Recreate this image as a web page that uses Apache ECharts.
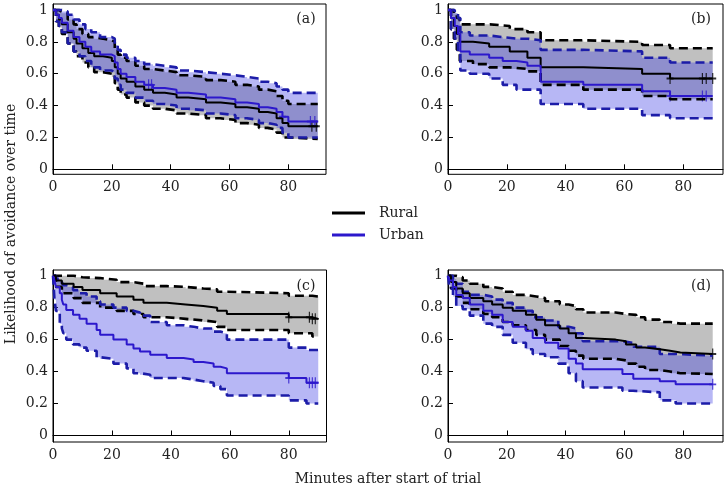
<!DOCTYPE html>
<html><head><meta charset="utf-8">
<script src="https://cdn.jsdelivr.net/npm/echarts@6/dist/echarts.min.js"></script>
<style>html,body{margin:0;padding:0;background:#fff}#c{width:724px;height:489px}</style>
</head><body><div id="c"></div>
<script>
// ---------- tick labels / categories ----------
const xTicks = [0, 20, 40, 60, 80];
const yTicks = [0, 0.2, 0.4, 0.6, 0.8, 1];
const groupNames = ['Rural', 'Urban'];
const panelLabels = ['(a)', '(b)', '(c)', '(d)'];
const xTitle = 'Minutes after start of trial';
const yTitle = 'Likelihood of avoidance over time';

// ---------- panel (a) ----------
const aRuralT  = [0, 1, 2, 3, 5, 7, 8, 10, 12, 14, 17, 20, 21, 22, 23, 25, 28, 31, 34, 38, 42, 46, 52, 57, 62, 66, 70, 73, 76, 78, 80, 90];
const aRuralS  = [1, .97, .94, .91, .86, .82, .79, .76, .73, .71, .70, .68, .64, .60, .57, .55, .52, .50, .48, .47, .45, .44, .42, .41, .39, .38, .36, .35, .32, .29, .27, .27];
const aRuralHi = [1, 1, .99, .98, .94, .91, .88, .85, .83, .82, .81, .80, .76, .72, .70, .68, .65, .63, .62, .61, .59, .58, .56, .55, .53, .52, .50, .49, .46, .43, .41, .41];
const aRuralLo = [1, .93, .89, .85, .79, .74, .71, .67, .64, .61, .60, .58, .54, .50, .47, .45, .42, .40, .38, .37, .35, .34, .32, .31, .29, .28, .26, .25, .23, .20, .19, .19];
const aRuralCens = [88, 89.5];
const aUrbanT  = [0, 1, 2, 3, 5, 7, 9, 11, 13, 16, 20, 21, 22, 23, 25, 28, 31, 34, 38, 42, 46, 52, 57, 62, 66, 70, 73, 76, 78, 80, 90];
const aUrbanS  = [1, .97, .95, .92, .87, .83, .80, .77, .74, .72, .71, .67, .63, .60, .58, .55, .53, .51, .50, .48, .47, .45, .44, .42, .41, .39, .38, .36, .33, .30, .30];
const aUrbanHi = [1, 1, 1, .99, .97, .94, .91, .88, .86, .83, .82, .78, .75, .72, .70, .68, .66, .65, .64, .62, .61, .60, .59, .58, .57, .55, .54, .52, .50, .48, .48];
const aUrbanLo = [1, .93, .90, .86, .79, .74, .71, .68, .64, .62, .61, .57, .53, .50, .48, .45, .43, .41, .40, .38, .37, .35, .34, .32, .31, .29, .28, .26, .23, .20, .20];
const aUrbanCens = [32.5, 33.5, 78, 87.5, 89];

// ---------- panel (b) ----------
const bRuralT  = [0, 1, 2, 3, 4, 8.5, 14, 21, 27, 31.5, 46, 66, 75.5, 90];
const bRuralS  = [1, .95, .90, .85, .80, .79, .77, .74, .70, .64, .63, .60, .57, .57];
const bRuralHi = [1, 1, .98, .95, .91, .91, .90, .88, .86, .81, .80, .78, .76, .76];
const bRuralLo = [1, .88, .82, .75, .68, .66, .64, .63, .615, .53, .50, .46, .44, .44];
const bRuralCens = [75.5, 86.5, 87.8, 90];
const bUrbanT  = [0, 1, 2.3, 3.4, 4.2, 7.4, 14, 18.6, 23.3, 27, 31.5, 46, 66, 75.5, 90];
const bUrbanS  = [1, .95, .90, .85, .74, .72, .70, .68, .67, .65, .55, .53, .49, .46, .46];
const bUrbanHi = [1, 1, .98, .95, .86, .84, .83, .82, .82, .81, .75, .74, .70, .67, .67];
const bUrbanLo = [1, .88, .82, .74, .62, .60, .57, .53, .50, .50, .41, .38, .34, .32, .32];
const bUrbanCens = [75.5, 86.5, 87.8];

// ---------- panel (c) ----------
const cRuralT  = [0, 1, 3, 7, 10, 16, 21.6, 27.3, 30.7, 38.6, 45, 51, 55.7, 59, 80, 88, 90];
const cRuralS  = [1, .97, .95, .93, .91, .89, .87, .85, .83, .82, .81, .80, .78, .76, .74, .73, .73];
const cRuralHi = [1, 1, 1, .99, .985, .975, .96, .95, .935, .93, .92, .915, .90, .89, .875, .87, .87];
const cRuralLo = [1, .93, .89, .86, .83, .80, .78, .76, .74, .73, .72, .71, .68, .66, .64, .62, .62];
const cRuralCens = [80, 87, 88, 89];
const cUrbanT  = [0, 0.5, 1, 2.3, 3, 3.5, 4.5, 6.8, 9, 11.4, 14.8, 16, 20.5, 25, 27.3, 29.5, 33, 38.6, 44.3, 47.7, 51, 54.5, 56.8, 59, 80, 86, 90];
const cUrbanS  = [1, .97, .93, .89, .85, .82, .785, .755, .73, .70, .66, .63, .60, .57, .545, .525, .505, .485, .475, .46, .45, .43, .42, .39, .36, .33, .33];
const cUrbanHi = [1, 1, .98, .96, .95, .94, .93, .91, .89, .87, .84, .82, .80, .78, .77, .75, .71, .69, .68, .67, .67, .65, .64, .60, .55, .535, .535];
const cUrbanLo = [1, .85, .78, .70, .67, .64, .60, .57, .55, .53, .49, .48, .45, .42, .39, .38, .36, .36, .35, .34, .33, .31, .29, .25, .22, .20, .20];
const cUrbanCens = [80, 87, 88, 89];

// ---------- panel (d) ----------
const dRuralT  = [0, 1, 2.8, 5, 7.4, 12, 15, 18.6, 22, 26.5, 30, 33, 38, 41, 43.5, 46, 57, 60.5, 64, 67, 72, 75.5, 79, 90];
const dRuralS  = [1, .96, .92, .89, .86, .84, .82, .80, .78, .755, .725, .69, .67, .64, .61, .60, .59, .57, .55, .54, .53, .52, .51, .51];
const dRuralHi = [1, 1, .99, .97, .95, .93, .92, .90, .88, .87, .86, .84, .82, .81, .79, .77, .76, .755, .74, .725, .71, .70, .70, .70];
const dRuralLo = [1, .92, .87, .83, .79, .76, .74, .71, .69, .66, .63, .60, .56, .53, .50, .48, .47, .45, .43, .41, .40, .39, .385, .385];
const dRuralCens = [90];
const dUrbanT  = [0, 0.5, 1.7, 2.8, 5, 7.4, 12, 15, 18.6, 22, 26.5, 28.8, 33, 37.5, 41, 43.5, 45.8, 59.3, 63, 72, 77.4, 90];
const dUrbanS  = [1, .97, .93, .88, .86, .82, .78, .755, .71, .68, .655, .61, .58, .545, .48, .45, .415, .385, .355, .34, .32, .32];
const dUrbanHi = [1, 1, .98, .95, .90, .88, .87, .85, .83, .80, .78, .74, .72, .68, .67, .64, .59, .58, .555, .51, .50, .50];
const dUrbanLo = [1, .92, .87, .81, .79, .75, .70, .68, .63, .58, .54, .51, .49, .45, .39, .34, .30, .28, .27, .22, .20, .20];
const dUrbanCens = [90];

// ---------- assemble ----------
const panels = [
  [{t: aRuralT, s: aRuralS, hi: aRuralHi, lo: aRuralLo, c: aRuralCens}, {t: aUrbanT, s: aUrbanS, hi: aUrbanHi, lo: aUrbanLo, c: aUrbanCens}],
  [{t: bRuralT, s: bRuralS, hi: bRuralHi, lo: bRuralLo, c: bRuralCens}, {t: bUrbanT, s: bUrbanS, hi: bUrbanHi, lo: bUrbanLo, c: bUrbanCens}],
  [{t: cRuralT, s: cRuralS, hi: cRuralHi, lo: cRuralLo, c: cRuralCens}, {t: cUrbanT, s: cUrbanS, hi: cUrbanHi, lo: cUrbanLo, c: cUrbanCens}],
  [{t: dRuralT, s: dRuralS, hi: dRuralHi, lo: dRuralLo, c: dRuralCens}, {t: dUrbanT, s: dUrbanS, hi: dUrbanHi, lo: dUrbanLo, c: dUrbanCens}]
];

const FONT = '"DejaVu Serif", serif';
const TXT = '#222';
const lineCol = ['#000000', '#2c18cc'];
const dashCol = ['#000000', '#1c1ca8'];
const bandCol = ['rgb(192,192,192)', 'rgba(60,60,229,0.37)'];

const grids = [
  {left: 53, top: 4, width: 273, height: 170.3},
  {left: 448, top: 4, width: 275, height: 170.3},
  {left: 53, top: 270, width: 273.5, height: 172},
  {left: 448, top: 270, width: 275, height: 172}
];
const xMax = [92.8, 93.5, 92.8, 93.5];
const yMin = [-0.0314, -0.0314, -0.0407, -0.0407];
const yMax = [1.0377, 1.0377, 1.0357, 1.0357];

function stepAt(x, ts, vs) {
  let v = vs[0];
  for (let i = 0; i < ts.length; i++) if (ts[i] <= x) v = vs[i];
  return v;
}

function bandRenderer(g, fill) {
  return function (params, api) {
    if (params.dataIndex !== 0) return null;
    const n = g.t.length;
    const pts = [];
    for (let k = 0; k < n - 1; k++) {
      pts.push(api.coord([g.t[k], g.hi[k]]));
      pts.push(api.coord([g.t[k + 1], g.hi[k]]));
    }
    for (let k = n - 2; k >= 0; k--) {
      pts.push(api.coord([g.t[k + 1], g.lo[k]]));
      pts.push(api.coord([g.t[k], g.lo[k]]));
    }
    return {type: 'polygon', shape: {points: pts}, style: {fill: fill, stroke: null}, silent: true};
  };
}

const series = [];
panels.forEach((p, i) => {
  // confidence bands
  p.forEach((g, gi) => {
    series.push({
      type: 'custom', name: groupNames[gi] + ' CI', xAxisIndex: i, yAxisIndex: i,
      silent: true, clip: true,
      renderItem: bandRenderer(g, bandCol[gi]),
      data: g.t.map((x, k) => [x, g.lo[k], g.hi[k]]),
      encode: {x: 0, y: [1, 2]}
    });
  });
  // dashed CI bounds
  p.forEach((g, gi) => {
    ['hi', 'lo'].forEach(key => {
      series.push({
        type: 'line', name: groupNames[gi] + ' ' + key, xAxisIndex: i, yAxisIndex: i,
        step: 'end', symbol: 'none', silent: true,
        lineStyle: {color: dashCol[gi], width: 2.6, type: [9, 5]},
        data: g.t.map((x, k) => [x, g[key][k]])
      });
    });
  });
  // survival curves + censor marks
  p.forEach((g, gi) => {
    series.push({
      type: 'line', name: groupNames[gi], xAxisIndex: i, yAxisIndex: i,
      step: 'end', symbol: 'none',
      itemStyle: {color: lineCol[gi]},
      lineStyle: {color: lineCol[gi], width: 2},
      data: g.t.map((x, k) => [x, g.s[k]])
    });
    series.push({
      type: 'scatter', name: groupNames[gi], xAxisIndex: i, yAxisIndex: i,
      symbol: 'path://M0,5L8,5M4,0L4,10', symbolSize: [7, 11], silent: true,
      itemStyle: {color: 'rgba(0,0,0,0)', borderColor: lineCol[gi], borderWidth: 1.5},
      data: g.c.map(x => [x, stepAt(x, g.t, g.s)])
    });
  });
});

const axisText = {fontFamily: FONT, fontSize: 14, color: TXT};
const xAxis = grids.map((g, i) => ({
  type: 'value', gridIndex: i, min: 0, max: xMax[i],
  axisLine: {show: true, lineStyle: {color: '#000', width: 1}},
  axisTick: {show: true, inside: true, length: 5, lineStyle: {color: '#000'}, customValues: xTicks},
  axisLabel: Object.assign({customValues: xTicks, margin: 6}, axisText),
  splitLine: {show: false}
}));
const yAxis = grids.map((g, i) => ({
  type: 'value', gridIndex: i, min: yMin[i], max: yMax[i],
  axisLine: {show: true, lineStyle: {color: '#000', width: 1}},
  axisTick: {show: true, inside: true, length: 5, lineStyle: {color: '#000'}, customValues: yTicks},
  axisLabel: Object.assign({customValues: yTicks, margin: 5, formatter: v => String(+v.toFixed(1))}, axisText),
  splitLine: {show: false}
}));

const labelPos = [[306, 19], [701, 19], [306, 286], [701, 286]];
const graphic = [
  {type: 'text', x: 11, y: 224, rotation: Math.PI / 2, silent: true,
   style: {text: yTitle, font: '14px ' + FONT, fill: TXT, align: 'center', verticalAlign: 'middle'}},
  {type: 'text', x: 388, y: 479, silent: true,
   style: {text: xTitle, font: '14px ' + FONT, fill: TXT, align: 'center', verticalAlign: 'middle'}}
].concat(panelLabels.map((t, i) => ({
  type: 'text', x: labelPos[i][0], y: labelPos[i][1], silent: true,
  style: {text: t, font: '14px ' + FONT, fill: TXT, align: 'center', verticalAlign: 'middle'}
})));

const chart = echarts.init(document.getElementById('c'), null, {renderer: 'canvas'});
chart.setOption({
  animation: false,
  backgroundColor: '#fff',
  grid: grids.map(g => Object.assign({show: true, borderColor: '#000', borderWidth: 1, backgroundColor: 'transparent', containLabel: false}, g)),
  xAxis, yAxis,
  legend: {
    data: groupNames, orient: 'vertical', left: 327, top: 201, itemGap: 8,
    icon: 'path://M0,0L33,0L33,3L0,3ZM42,1.5Z', itemWidth: 42, itemHeight: 3,
    textStyle: {fontFamily: FONT, fontSize: 14, color: TXT},
    selectedMode: false
  },
  graphic,
  series
});
</script></body></html>
